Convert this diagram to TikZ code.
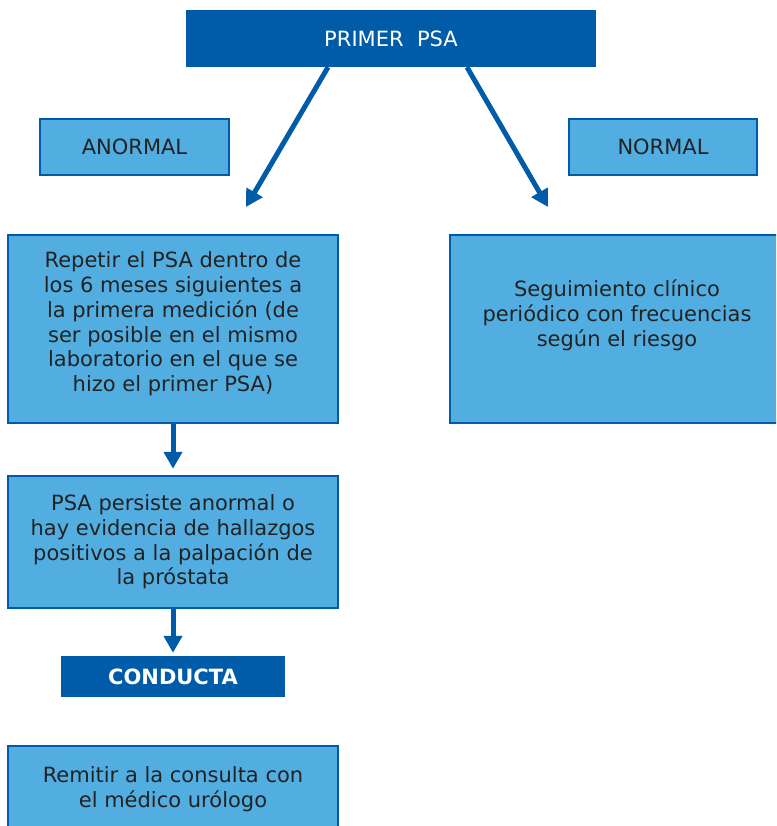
\documentclass[tikz,border=0pt]{standalone}
\usepackage{fontspec}
\setmainfont{DejaVu Sans}
\usetikzlibrary{arrows.meta}
\definecolor{darkblue}{HTML}{005CA8}
\definecolor{lightblue}{HTML}{52AEE1}
\definecolor{txt}{HTML}{222222}
\begin{document}
\begin{tikzpicture}[x=1pt,y=-1pt,
  lbox/.style={draw=darkblue,line width=2.5pt,fill=lightblue,inner sep=0pt,text=txt,align=center,font=\fontsize{21}{24.8}\selectfont},
  dbox/.style={fill=darkblue,inner sep=0pt,text=white,align=center,font=\fontsize{21}{24.8}\selectfont},
  conn/.style={darkblue,line width=5pt,-{Triangle[width=18pt,length=17pt]}},
  txtnode/.style={text=txt,align=center,inner sep=0pt,font=\fontsize{21}{24.8}\selectfont}]
\useasboundingbox (0,0) rectangle (776,826);
\clip (0,0) rectangle (776,826);
\node[dbox,minimum width=410pt,minimum height=57pt] (primer) at (391,38.5) {PRIMER\ \ PSA};
\node[lbox,minimum width=189pt,minimum height=56pt] (anormal) at (134.5,147) {ANORMAL};
\node[lbox,minimum width=188pt,minimum height=56pt] (normal) at (663,147) {NORMAL};
\node[lbox,minimum width=330pt,minimum height=188pt] (repetir) at (173,329) {};
\node[txtnode] (reptext) at (173,324) {Repetir el PSA dentro de\\los 6 meses siguientes a\\la primera medición (de\\ser posible en el mismo\\laboratorio en el que se\\hizo el primer PSA)};
\node[lbox,minimum width=330pt,minimum height=188pt] (seguimiento) at (615,329) {};
\node[txtnode] (segtext) at (617,315) {Seguimiento clínico\\periódico con frecuencias\\según el riesgo};
\node[lbox,minimum width=330pt,minimum height=132pt] (persiste) at (173,542) {PSA persiste anormal o\\hay evidencia de hallazgos\\positivos a la palpación de\\la próstata};
\node[dbox,minimum width=224pt,minimum height=41pt,font=\fontsize{21}{24.8}\selectfont\bfseries] (conducta) at (173,676.5) {CONDUCTA};
\node[lbox,minimum width=330pt,minimum height=120pt] (remitir) at (173,806) {};
\node[txtnode] (remtext) at (173,789) {Remitir a la consulta con\\el médico urólogo};
\coordinate (lend) at (246,207);
\coordinate (rend) at (548,207);
\draw[conn] (primer.south -| 328,0) -- (lend);
\draw[conn] (primer.south -| 467,0) -- (rend);
\draw[conn] (repetir.south) -- ([yshift=6pt]persiste.north);
\draw[conn] (persiste.south) -- ([yshift=3pt]conducta.north);
\end{tikzpicture}
\end{document}
